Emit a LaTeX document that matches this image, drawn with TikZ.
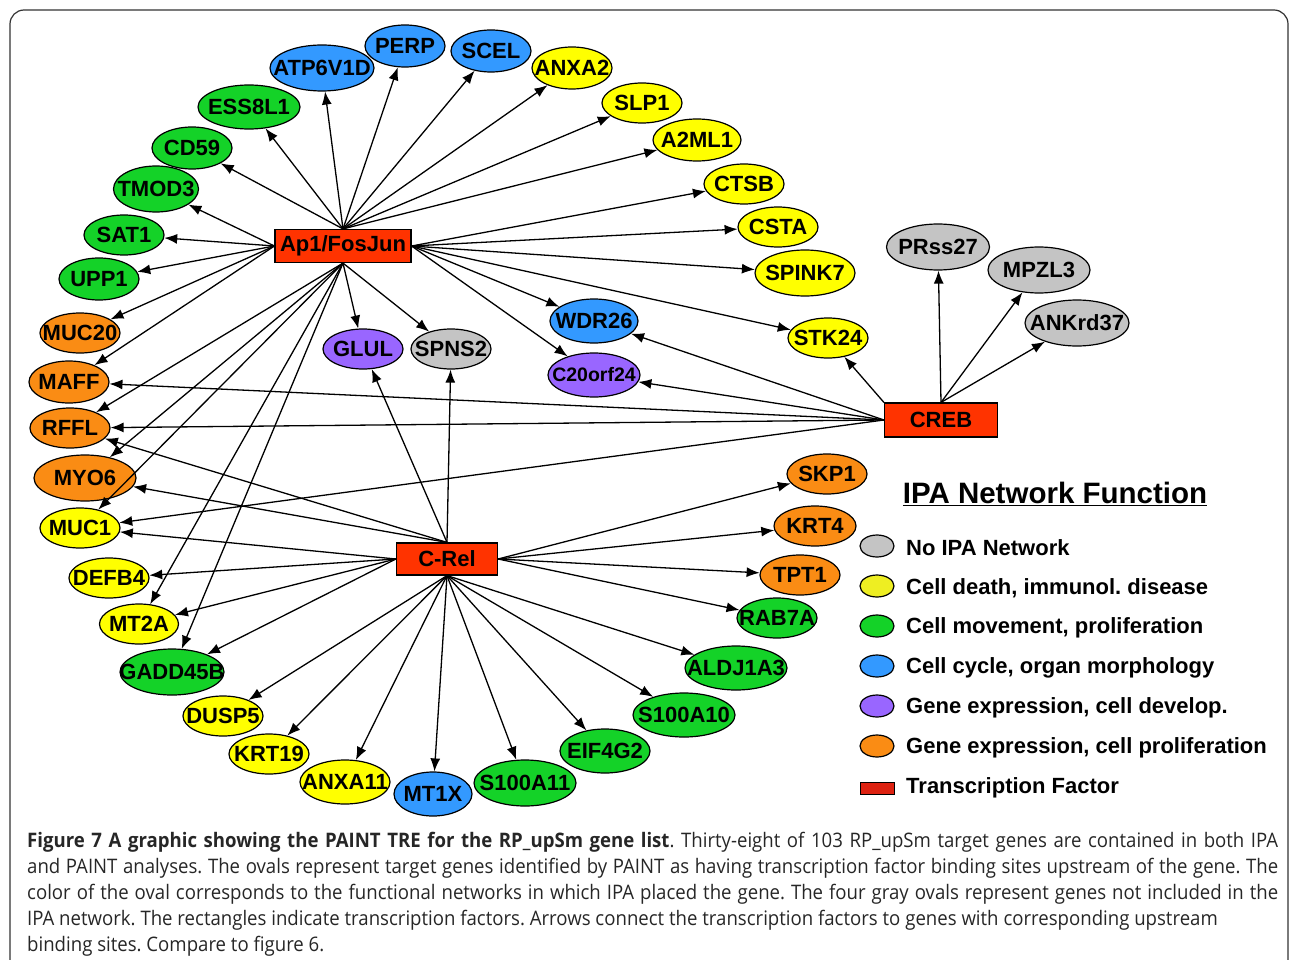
\documentclass[tikz,border=0pt]{standalone}
\usepackage{fontspec}
\setmainfont{Liberation Sans}
\newfontfamily\capfont[FakeStretch=0.93]{Open Sans}
\usetikzlibrary{shapes.geometric,arrows.meta}
\frenchspacing
\definecolor{gyel}{HTML}{FFFF00}
\definecolor{ggrn}{HTML}{14D228}
\definecolor{gblu}{HTML}{3399FF}
\definecolor{gvio}{HTML}{9966FF}
\definecolor{gora}{HTML}{FA8C14}
\definecolor{ggry}{HTML}{C4C4C4}
\definecolor{tfred}{HTML}{FF3300}
\definecolor{legred}{HTML}{DD2211}
\definecolor{legyel}{HTML}{EEEE22}
\tikzset{
  gene/.style={ellipse,draw,line width=1.2pt,fill=#1,minimum width=80pt,minimum height=40pt,inner sep=0pt,
    font=\bfseries\fontsize{22}{22}\selectfont,
    execute at begin node={\hbox to 0pt\bgroup\hss},execute at end node={\hss\egroup}},
  tf/.style={rectangle,draw,line width=1.2pt,fill=tfred,inner sep=0pt,font=\bfseries\fontsize{22}{22}\selectfont},
  link/.style={-{Latex[length=13pt,width=10pt]},line width=1.3pt},
  key/.style={ellipse,draw,line width=1.2pt,fill=#1,minimum width=34pt,minimum height=22pt,inner sep=0pt},
  keytext/.style={anchor=west,inner sep=0pt,font=\bfseries\fontsize{22}{22}\selectfont},
  capline/.style={anchor=base west,inner sep=0pt,text=black!85,font=\capfont\fontsize{20}{20}\selectfont}
}
\begin{document}
\begin{tikzpicture}[x=1pt,y=-1pt]
\useasboundingbox (0,0) rectangle (1290,960);
\draw[rounded corners=14pt,line width=1.2pt,black!80] (10,10) rectangle (1288,1000);

\node[tf,minimum width=136pt,minimum height=33pt] (ap1) at (343,246) {Ap1/FosJun};
\node[tf,minimum width=101pt,minimum height=32pt] (crel) at (447,559) {C-Rel};
\node[tf,minimum width=113pt,minimum height=34pt] (creb) at (941,420) {CREB};

\node[gene=gblu,minimum width=104pt,minimum height=46pt] (atp) at (322,68) {ATP6V1D};
\node[gene=gblu,minimum height=42pt] (perp) at (405,46) {PERP};
\node[gene=gblu,minimum height=42pt] (scel) at (491,51) {SCEL};
\node[gene=gyel,minimum height=42pt] (anxa2) at (572,68) {ANXA2};
\node[gene=gyel] (slp1) at (642,103) {SLP1};
\node[gene=gyel,minimum width=88pt,minimum height=42pt] (a2ml1) at (697,140) {A2ML1};
\node[gene=gyel] (ctsb) at (744,184) {CTSB};
\node[gene=gyel] (csta) at (778,227) {CSTA};
\node[gene=gyel,minimum width=100pt,minimum height=46pt] (spink7) at (805,273) {SPINK7};
\node[gene=ggrn,minimum width=102pt,minimum height=44pt] (ess8l1) at (249,107) {ESS8L1};
\node[gene=ggrn,minimum height=42pt] (cd59) at (192,148) {CD59};
\node[gene=ggrn,minimum width=85pt,minimum height=46pt] (tmod3) at (156,189) {TMOD3};
\node[gene=ggrn] (sat1) at (124,235) {SAT1};
\node[gene=ggrn,minimum height=42pt] (upp1) at (99,279) {UPP1};
\node[gene=gora] (muc20) at (80,333) {MUC20};
\node[gene=gora,minimum height=42pt] (maff) at (69,382) {MAFF};
\node[gene=gora] (rffl) at (70,428) {RFFL};
\node[gene=gora,minimum width=102pt,minimum height=46pt] (myo6) at (85,478) {MYO6};
\node[gene=gyel] (muc1) at (80,528) {MUC1};
\node[gene=gyel] (defb4) at (109,578) {DEFB4};
\node[gene=gyel,minimum width=79pt] (mt2a) at (139,624) {MT2A};
\node[gene=ggrn,minimum width=104pt,minimum height=46pt] (gadd45b) at (172,672) {GADD45B};
\node[gene=gyel] (dusp5) at (223,716) {DUSP5};
\node[gene=gyel] (krt19) at (269,754) {KRT19};
\node[gene=gyel,minimum width=90pt,minimum height=44pt] (anxa11) at (345,782) {ANXA11};
\node[gene=gblu,minimum width=78pt,minimum height=44pt] (mt1x) at (433,794) {MT1X};
\node[gene=ggrn,minimum width=102pt,minimum height=46pt] (s100a11) at (525,783) {S100A11};
\node[gene=ggrn,minimum width=90pt,minimum height=44pt] (eif4g2) at (605,751) {EIF4G2};
\node[gene=ggrn,minimum width=102pt,minimum height=44pt] (s100a10) at (684,715) {S100A10};
\node[gene=ggrn,minimum width=102pt,minimum height=44pt] (aldj1a3) at (736,668) {ALDJ1A3};
\node[gene=ggrn] (rab7a) at (777,618) {RAB7A};
\node[gene=gora] (tpt1) at (800,575) {TPT1};
\node[gene=gora,minimum width=82pt] (krt4) at (815,526) {KRT4};
\node[gene=gora] (skp1) at (827,474) {SKP1};
\node[gene=gvio] (glul) at (363,349) {GLUL};
\node[gene=ggry] (spns2) at (451,349) {SPNS2};
\node[gene=gblu,minimum width=88pt,minimum height=44pt] (wdr26) at (594,321) {WDR26};
\node[gene=gvio,minimum width=92pt,minimum height=44pt,font=\bfseries\fontsize{19.5}{20}\selectfont] (c20orf24) at (594,375) {C20orf24};
\node[gene=gyel] (stk24) at (828,338) {STK24};
\node[gene=ggry,minimum width=103pt,minimum height=46pt] (prss27) at (938,247) {PRss27};
\node[gene=ggry,minimum width=102pt,minimum height=46pt] (mpzl3) at (1039,270) {MPZL3};
\node[gene=ggry,minimum width=104pt,minimum height=46pt] (ankrd37) at (1077,323) {ANKrd37};

\draw[link] (ap1.north) -- (atp);
\draw[link] (ap1.north) -- (perp);
\draw[link] (ap1.north) -- (scel);
\draw[link] (ap1.north) -- (anxa2);
\draw[link] (ap1.north) -- (slp1);
\draw[link] (ap1.north) -- (a2ml1);
\draw[link] (ap1.north) -- (ess8l1);
\draw[link] (ap1.north) -- (cd59);
\draw[link] (ap1.west) -- (tmod3);
\draw[link] (ap1.west) -- (sat1);
\draw[link] (ap1.west) -- (upp1);
\draw[link] (ap1.west) -- (muc20);
\draw[link] (ap1.west) -- (maff);
\draw[link] (ap1.east) -- (ctsb);
\draw[link] (ap1.east) -- (csta);
\draw[link] (ap1.east) -- (spink7);
\draw[link] (ap1.east) -- (stk24);
\draw[link] (ap1.east) -- (wdr26);
\draw[link] (ap1.east) -- (c20orf24);
\draw[link] (ap1.south) -- (rffl);
\draw[link] (ap1.south) -- (myo6);
\draw[link] (ap1.south) -- (muc1);
\draw[link] (ap1.south) -- (mt2a);
\draw[link] (ap1.south) -- (gadd45b);
\draw[link] (ap1.south) -- (glul);
\draw[link] (ap1.south) -- (spns2);

\draw[link] (crel.north) -- (glul);
\draw[link] (crel.north) -- (spns2);
\draw[link] (crel.north) -- (rffl);
\draw[link] (crel.north) -- (myo6);
\draw[link] (crel.west) -- (muc1);
\draw[link] (crel.west) -- (defb4);
\draw[link] (crel.west) -- (mt2a);
\draw[link] (crel.west) -- (gadd45b);
\draw[link] (crel.south) -- (dusp5);
\draw[link] (crel.south) -- (krt19);
\draw[link] (crel.south) -- (anxa11);
\draw[link] (crel.south) -- (mt1x);
\draw[link] (crel.south) -- (s100a11);
\draw[link] (crel.south) -- (eif4g2);
\draw[link] (crel.south) -- (s100a10);
\draw[link] (crel.south) -- (aldj1a3);
\draw[link] (crel.east) -- (skp1);
\draw[link] (crel.east) -- (krt4);
\draw[link] (crel.east) -- (tpt1);
\draw[link] (crel.east) -- (rab7a);

\draw[link] (creb.north) -- (prss27);
\draw[link] (creb.north) -- (mpzl3);
\draw[link] (creb.north) -- (ankrd37);
\draw[link] (creb.north west) -- (stk24);
\draw[link] (creb.west) -- (wdr26);
\draw[link] (creb.west) -- (c20orf24);
\draw[link] (creb.west) -- (maff);
\draw[link] (creb.west) -- (rffl);
\draw[link] (creb.west) -- (muc1);

\node[inner sep=0pt,font=\bfseries\fontsize{29.5}{30}\selectfont] (keytitle) at (1055,494) {\underline{IPA Network Function}};
\node[key=ggry] (k1) at (877,546) {};
\node[key=legyel] (k2) at (877,586) {};
\node[key=ggrn] (k3) at (877,626) {};
\node[key=gblu] (k4) at (877,666) {};
\node[key=gvio] (k5) at (877,706) {};
\node[key=gora] (k6) at (877,746) {};
\node[draw,line width=1pt,fill=legred,minimum width=34pt,minimum height=12pt,inner sep=0pt] (k7) at (877,788) {};
\node[keytext] (t1) at (906,548) {No IPA Network};
\node[keytext] (t2) at (906,588) {Cell death, immunol. disease};
\node[keytext] (t3) at (906,628) {Cell movement, proliferation};
\node[keytext] (t4) at (906,668) {Cell cycle, organ morphology};
\node[keytext] (t5) at (906,708) {Gene expression, cell develop.};
\node[keytext] (t6) at (906,748) {Gene expression, cell proliferation};
\node[keytext] (t7) at (906,788) {Transcription Factor};

\node[capline] (cap1) at (27,847) {\hbox to 1251pt{{\bfseries Figure 7 A graphic showing the PAINT TRE for the RP\_upSm gene list}. Thirty-eight of 103 RP\_upSm target genes are contained in both IPA}};
\node[capline] (cap2) at (27,873) {\hbox to 1251pt{and PAINT analyses. The ovals represent target genes identified by PAINT as having transcription factor binding sites upstream of the gene. The}};
\node[capline] (cap3) at (27,899) {\hbox to 1251pt{color of the oval corresponds to the functional networks in which IPA placed the gene. The four gray ovals represent genes not included in the}};
\node[capline] (cap4) at (27,925) {IPA network. The rectangles indicate transcription factors. Arrows connect the transcription factors to genes with corresponding upstream};
\node[capline] (cap5) at (27,951) {binding sites. Compare to figure 6.};
\end{tikzpicture}
\end{document}
